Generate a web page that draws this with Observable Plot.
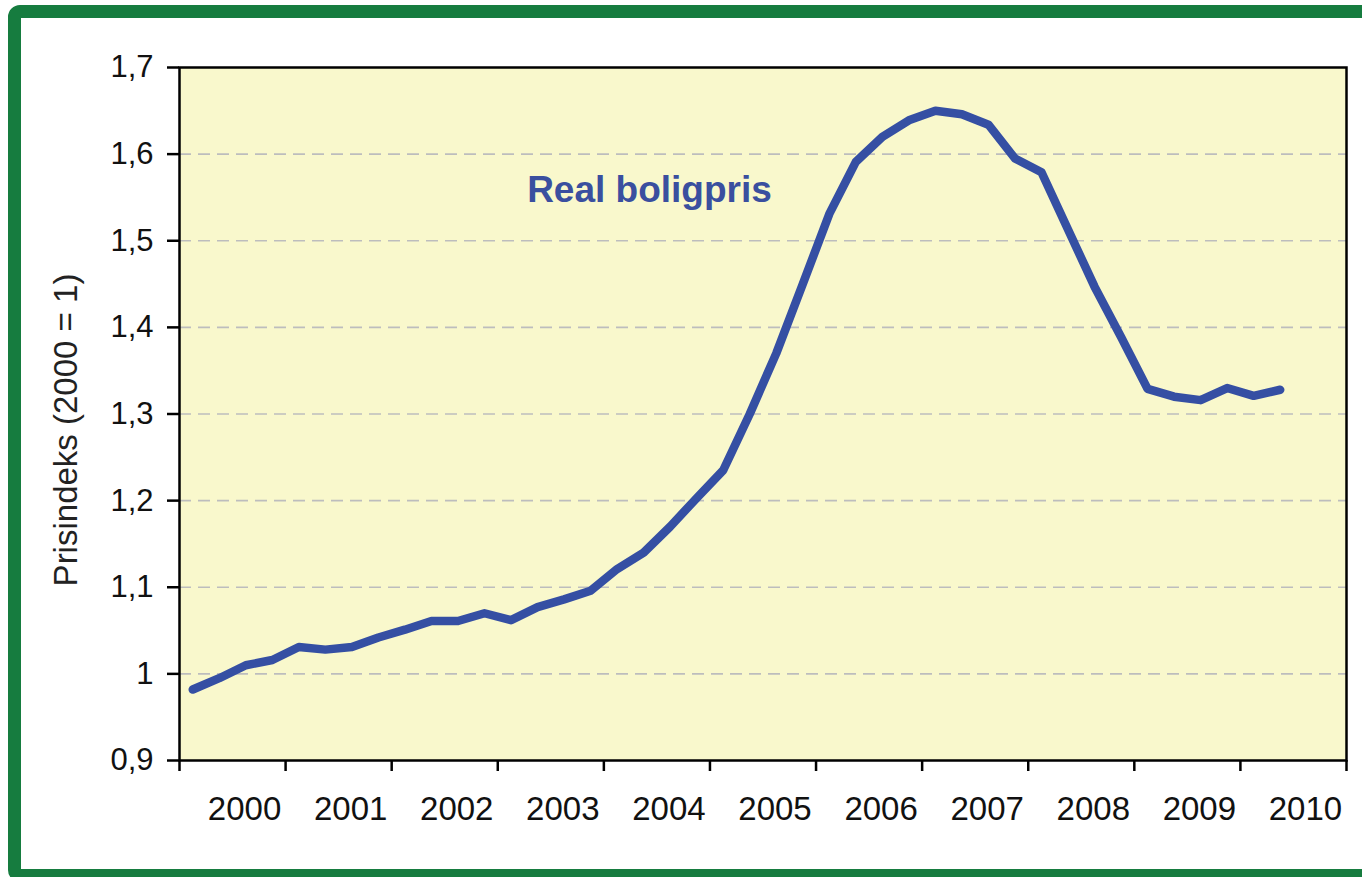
<!DOCTYPE html>
<html>
<head>
<meta charset="utf-8">
<script src="https://cdn.jsdelivr.net/npm/d3@7"></script>
<script src="https://cdn.jsdelivr.net/npm/@observablehq/plot@0.6"></script>
<style>
  html, body { margin: 0; padding: 0; background: white; }
  #wrap { position: relative; width: 1362px; height: 877px; overflow: hidden; background: white; }
  #border { position: absolute; left: 8px; top: 5px; width: 1420px; height: 877px; box-sizing: border-box;
            border: 13px solid #167c3f; border-radius: 12px; pointer-events: none; }
</style>
</head>
<body>
<div id="wrap"><div id="chart"></div><div id="border"></div></div>
<script>
// Real house price index, quarterly 2000Q1 – 2010Q2 (2000 = 1)
const startYear = 2000;
const values = [
  0.982, 0.995, 1.010, 1.016,
  1.031, 1.028, 1.031, 1.042,
  1.051, 1.061, 1.061, 1.070,
  1.062, 1.077, 1.086, 1.096,
  1.121, 1.140, 1.170, 1.203,
  1.235, 1.300, 1.370, 1.450,
  1.531, 1.591, 1.620, 1.639,
  1.650, 1.646, 1.634, 1.595,
  1.579, 1.513, 1.447, 1.389,
  1.329, 1.320, 1.316, 1.330,
  1.321, 1.328
];
const yearTicks = d3.range(2000, 2012);          // year boundaries
const yearLabels = d3.range(2000, 2011);         // labels 2000 … 2010
const yTicks = [0.9, 1.0, 1.1, 1.2, 1.3, 1.4, 1.5, 1.6, 1.7];
const gridTicks = [1.0, 1.1, 1.2, 1.3, 1.4, 1.5, 1.6];
const seriesLabel = "Real boligpris";
const yTitle = "Prisindeks (2000 = 1)";

const data = values.map((v, i) => ({t: startYear + (i + 0.5) / 4, v}));
const fmtY = d => String(+d.toFixed(1)).replace(".", ",");
const blue = "#354fa3";

const chart = Plot.plot({
  width: 1362,
  height: 877,
  marginLeft: 179,
  marginRight: 16,
  marginTop: 67,
  marginBottom: 117,
  style: {fontFamily: "'Liberation Sans', Arial, sans-serif", fontSize: "31px", color: "#111", background: "white"},
  x: {domain: [2000, 2011]},
  y: {domain: [0.9, 1.7]},
  marks: [
    Plot.frame({fill: "#f9f8cc", stroke: null}),
    Plot.gridY(gridTicks, {stroke: "#bdbdbd", strokeOpacity: 1, strokeWidth: 1.6, strokeDasharray: "12,7"}),
    Plot.axisY({ticks: yTicks, tickFormat: fmtY, tickSize: 12, tickPadding: 14, strokeWidth: 2.5, stroke: "black", label: null, fontSize: 31}),
    Plot.axisX({ticks: yearTicks, tickFormat: () => "", tickSize: 11, strokeWidth: 2.5, stroke: "black", label: null}),
    Plot.axisX({ticks: yearLabels.map(y => y + 0.5), tickFormat: d => String(Math.floor(d)), tickSize: 0, tickPadding: 36, dx: 12, label: null, fontSize: 33}),
    Plot.text([yTitle], {frameAnchor: "left", textAnchor: "middle", rotate: -90, dx: -113, dy: 16, fontSize: 33, fill: "#222"}),
    Plot.line(data, {x: "t", y: "v", stroke: blue, strokeWidth: 8.5, strokeLinejoin: "round", strokeLinecap: "round"}),
    Plot.text([seriesLabel], {x: 2004.43, y: 1.558, text: d => d, fill: "#3a4f9f", fontWeight: "bold", fontSize: 37, textAnchor: "middle"}),
    Plot.frame({stroke: "black", strokeWidth: 2.5})
  ]
});
document.getElementById("chart").appendChild(chart);
</script>
</body>
</html>
